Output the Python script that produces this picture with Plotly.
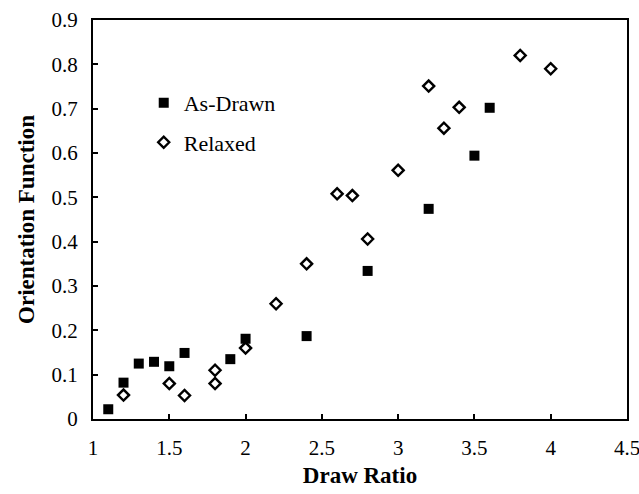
import plotly.graph_objects as go

# Draw ratio vs. orientation function
drawn_ratio = [1.1, 1.2, 1.3, 1.4, 1.5, 1.6, 1.9, 2.0, 2.4, 2.8, 3.2, 3.5, 3.6]
drawn_orient = [0.022, 0.082, 0.125, 0.129, 0.119, 0.149, 0.135, 0.181, 0.187, 0.334, 0.474, 0.594, 0.702]

relaxed_ratio = [1.2, 1.5, 1.6, 1.8, 1.8, 2.0, 2.2, 2.4, 2.6, 2.7, 2.8, 3.0, 3.2, 3.3, 3.4, 3.8, 4.0]
relaxed_orient = [0.054, 0.080, 0.053, 0.080, 0.110, 0.160, 0.260, 0.350, 0.508, 0.504, 0.406, 0.561, 0.751, 0.656, 0.703, 0.820, 0.790]

FONT = "Liberation Serif, Times New Roman, Times, serif"

fig = go.Figure()
fig.add_trace(go.Scatter(
    x=drawn_ratio, y=drawn_orient, mode="markers", name="As-Drawn",
    legendgroup="a",
    marker=dict(symbol="square", size=10, color="black"),
))
fig.add_trace(go.Scatter(
    x=relaxed_ratio, y=relaxed_orient, mode="markers", name="Relaxed",
    legendgroup="b",
    marker=dict(symbol="diamond-open", size=8.5, color="black", line=dict(width=2.4)),
))

axis_common = dict(
    showgrid=False, zeroline=False, automargin=False,
    showline=True, linecolor="black", linewidth=2, mirror=True,
    ticks="inside", ticklen=5, tickwidth=2, tickcolor="black",
    ticklabeloverflow="allow",
    tickfont=dict(family=FONT, size=21, color="black"),
)

fig.update_layout(
    width=639, height=494,
    margin=dict(l=93, r=12, t=20, b=75),
    paper_bgcolor="white", plot_bgcolor="white",
    showlegend=True,
    legend=dict(
        x=0.095, y=0.845, xanchor="left", yanchor="top",
        font=dict(family=FONT, size=22, color="black"),
        bgcolor="rgba(0,0,0,0)", tracegroupgap=8,
        traceorder="grouped",
    ),
    xaxis=dict(
        range=[1, 4.5], dtick=0.5, tick0=1,
        title=dict(text="<b>Draw Ratio</b>", font=dict(family=FONT, size=23, color="black"), standoff=8),
        ticklabelstandoff=9,
        **axis_common,
    ),
    yaxis=dict(
        range=[0, 0.9], dtick=0.1, tick0=0,
        title=dict(text="<b>Orientation Function</b>", font=dict(family=FONT, size=23, color="black"), standoff=10),
        ticklabelstandoff=9,
        **axis_common,
    ),
)

fig.write_html("out.html")
